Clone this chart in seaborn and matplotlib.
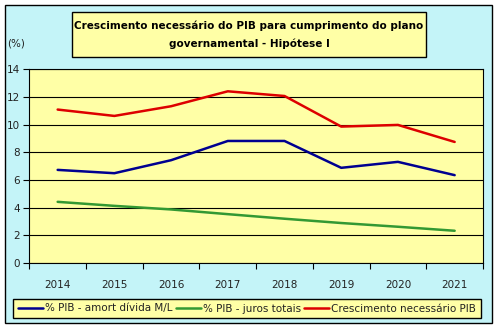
import matplotlib
matplotlib.use("Agg")
import matplotlib.pyplot as plt
import seaborn as sns
import pandas as pd
from matplotlib.patches import Rectangle
from matplotlib.ticker import FixedLocator, NullFormatter, FixedFormatter

# ---- data ----
years = [2014, 2015, 2016, 2017, 2018, 2019, 2020, 2021]
amort = [6.73, 6.49, 7.43, 8.82, 8.82, 6.88, 7.31, 6.35]
juros = [4.42, 4.13, 3.87, 3.53, 3.20, 2.89, 2.62, 2.33]
cresc = [11.09, 10.63, 11.33, 12.41, 12.07, 9.86, 9.98, 8.75]
series_names = ["% PIB - amort dívida M/L", "% PIB - juros totais", "Crescimento necessário PIB"]
yticks = [0, 2, 4, 6, 8, 10, 12, 14]
title_lines = ["Crescimento necessário do PIB para cumprimento do plano",
               "governamental - Hipótese I"]
unit_label = "(%)"

colors = ["#000090", "#339933", "#DD0000"]

sns.set_theme(style="white")
plt.rcParams['font.family'] = ['DejaVu Sans']

W, H = 498, 329
fig = plt.figure(figsize=(W / 100, H / 100), dpi=100)
fig.patch.set_facecolor("white")

# outer chart frame
fig.patches.append(Rectangle((5 / W, 1 - 323 / H), 487 / W, 318 / H, transform=fig.transFigure,
                             facecolor="#C4F4F8", edgecolor="black", lw=1.0, zorder=-5))

ax = fig.add_axes([29.3 / W, 1 - 263 / H, (483 - 29.3) / W, (263 - 69.3) / H])
ax.set_zorder(1)
ax.set_facecolor("#FFFFA6")

df = pd.DataFrame({
    "Ano": years * 3,
    "Valor": amort + juros + cresc,
    "Série": [s for s in series_names for _ in years],
})
sns.lineplot(data=df, x="Ano", y="Valor", hue="Série", hue_order=series_names,
             palette=colors, linewidth=1.8, ax=ax)

handles, labels = ax.get_legend_handles_labels()
ax.get_legend().remove()

ax.set_xlim(years[0] - 0.5, years[-1] + 0.5)
ax.set_ylim(yticks[0], yticks[-1])
ax.set_xlabel("")
ax.set_ylabel("")

# y axis
ax.set_yticks(yticks)
ax.set_yticklabels([str(v) for v in yticks])
ax.tick_params(axis="y", which="major", direction="out", length=4, width=0.8,
               colors="black", labelsize=7.5, pad=3, left=True)
ax.yaxis.grid(True, color="black", lw=0.8)
ax.set_axisbelow(True)

# x axis: ticks at boundaries, labels at centers
bounds = [y - 0.5 for y in years] + [years[-1] + 0.5]
ax.xaxis.set_major_locator(FixedLocator(bounds))
ax.xaxis.set_major_formatter(NullFormatter())
ax.xaxis.set_minor_locator(FixedLocator(years))
ax.xaxis.set_minor_formatter(FixedFormatter([str(y) for y in years]))
ax.tick_params(axis="x", which="major", direction="out", length=4, width=0.8, colors="black", bottom=True)
ax.tick_params(axis="x", which="minor", length=0, labelsize=7.5, pad=12, colors="black", bottom=True)
for lab in ax.get_xticklabels(minor=True):
    lab.set_color("#222222")
for lab in ax.get_yticklabels():
    lab.set_color("#222222")

for s in ax.spines.values():
    s.set_visible(True)
    s.set_color("black")
    s.set_linewidth(0.8)

# title box
fig.patches.append(Rectangle((72 / W, 1 - 57 / H), (426 - 72) / W, (57 - 12) / H,
                             transform=fig.transFigure, facecolor="#FFFFA6",
                             edgecolor="black", lw=1.0, zorder=1))
fig.text(249 / W, 1 - 26 / H, title_lines[0], ha="center", va="center",
         fontsize=7.5, fontweight="bold", color="black", zorder=2)
fig.text(249 / W, 1 - 44 / H, title_lines[1], ha="center", va="center",
         fontsize=7.5, fontweight="bold", color="black", zorder=2)

fig.text(7 / W, 1 - 44 / H, unit_label, ha="left", va="center", fontsize=7.5,
         color="#222222")

leg = fig.legend(handles, labels, loc="center", ncol=3,
                 bbox_to_anchor=(13 / W, 1 - 320 / H, 468 / W, 23 / H), mode="expand",
                 fontsize=7.5, frameon=True, fancybox=False, handlelength=2.4,
                 handletextpad=0.2, columnspacing=0.5, borderpad=0.45, borderaxespad=0)
leg.get_frame().set_facecolor("#FFFFA6")
leg.get_frame().set_edgecolor("black")
leg.get_frame().set_linewidth(1.0)
leg.get_frame().set_alpha(1)
for t in leg.get_texts():
    t.set_color("#222222")

fig.savefig("out.png", dpi=100, facecolor=fig.get_facecolor())
